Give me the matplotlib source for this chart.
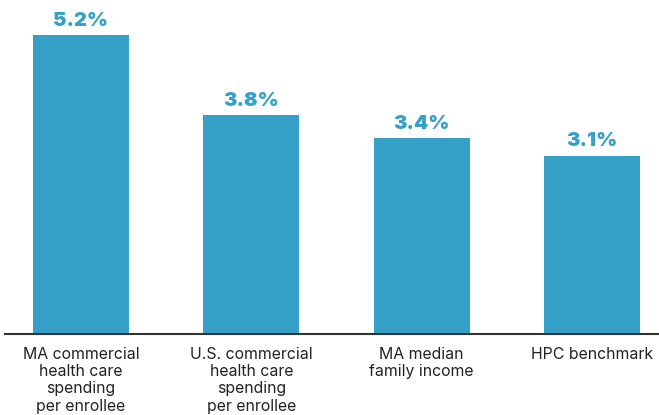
import matplotlib
matplotlib.use("Agg")
import matplotlib.pyplot as plt

categories = ["MA commercial\nhealth care\nspending\nper enrollee",
              "U.S. commercial\nhealth care\nspending\nper enrollee",
              "MA median\nfamily income",
              "HPC benchmark"]
values = [5.2, 3.8, 3.4, 3.1]
value_labels = ["5.2%", "3.8%", "3.4%", "3.1%"]

color = "#35A0C8"
fig = plt.figure(figsize=(6.59, 4.15), dpi=100)
ax = fig.add_axes([5/659, 81/415, 654/659, 334/415])
x = list(range(len(values)))
ax.bar(x, values, width=0.564, color=color)
ax.set_xlim(-0.446, 3.393)
ax.set_ylim(0, 334/57.5)
for xi, v, lab in zip(x, values, value_labels):
    ax.annotate(lab, (xi, v), xytext=(0, 3.8), textcoords="offset points",
                ha="center", va="bottom", color=color,
                fontsize=14.5, fontweight=900, family=["Inter", "DejaVu Sans"])
ax.set_xticks(x)
ax.set_xticklabels(categories, fontsize=11.4, color="#222222",
                   family=["Inter", "DejaVu Sans"], linespacing=1.2, va="top")
ax.tick_params(axis="x", length=0, pad=9)
ax.set_yticks([])
for s in ["top", "right", "left"]:
    ax.spines[s].set_visible(False)
ax.spines["bottom"].set_color("#333333")
ax.spines["bottom"].set_linewidth(1.5)
fig.savefig("out.png", dpi=100)
